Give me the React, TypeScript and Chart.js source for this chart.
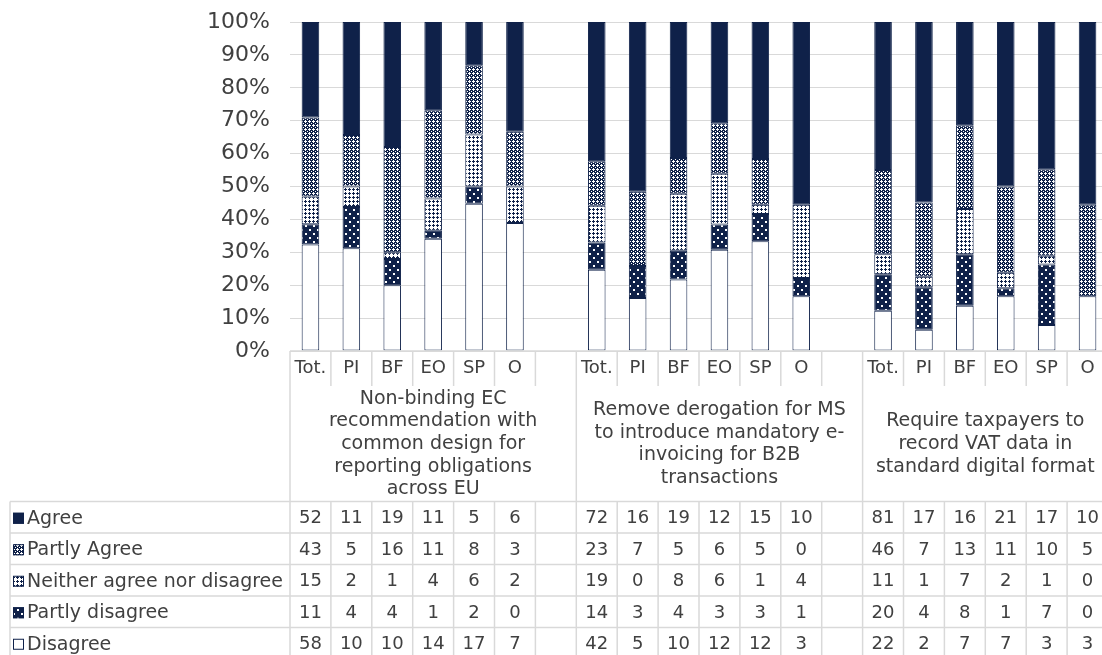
import { useEffect, useRef } from 'react';
import { Chart, registerables } from 'chart.js';

Chart.register(...registerables);

const categories = ['Tot.', 'PI', 'BF', 'EO', 'SP', 'O', '', 'Tot.', 'PI', 'BF', 'EO', 'SP', 'O', '', 'Tot.', 'PI', 'BF', 'EO', 'SP', 'O'];
const groupLabels = [
  ['Non-binding EC', 'recommendation with', 'common design for', 'reporting obligations', 'across EU'],
  ['Remove derogation for MS', 'to introduce mandatory e-', 'invoicing for B2B', 'transactions'],
  ['Require taxpayers to', 'record VAT data in', 'standard digital format'],
];
const groupStarts = [0, 7, 14];
const groupSpans = [7, 7, 6];

const agree = [52, 11, 19, 11, 5, 6, null, 72, 16, 19, 12, 15, 10, null, 81, 17, 16, 21, 17, 10];
const partlyAgree = [43, 5, 16, 11, 8, 3, null, 23, 7, 5, 6, 5, 0, null, 46, 7, 13, 11, 10, 5];
const neither = [15, 2, 1, 4, 6, 2, null, 19, 0, 8, 6, 1, 4, null, 11, 1, 7, 2, 1, 0];
const partlyDisagree = [11, 4, 4, 1, 2, 0, null, 14, 3, 4, 3, 3, 1, null, 20, 4, 8, 1, 7, 0];
const disagree = [58, 10, 10, 14, 17, 7, null, 42, 5, 10, 12, 12, 3, null, 22, 2, 7, 7, 3, 3];

const seriesNames = ['Agree', 'Partly Agree', 'Neither agree nor disagree', 'Partly disagree', 'Disagree'];

const NAVY = '#0f2149';
const GRID = '#d9d9d9';
const TEXT = '#404040';
const FONT = "'DejaVu Sans', Verdana, sans-serif";

function makePattern(size: number, bg: string, fg: string, px: number[][]) {
  const c = document.createElement('canvas');
  c.width = size;
  c.height = size;
  const g = c.getContext('2d')!;
  g.fillStyle = bg;
  g.fillRect(0, 0, size, size);
  g.fillStyle = fg;
  px.forEach(([x, y, w, h]) => g.fillRect(x, y, w, h));
  return g.createPattern(c, 'repeat')!;
}

export default function App() {
  const ref = useRef<HTMLCanvasElement>(null);

  useEffect(() => {
    const canvas = ref.current!;
    const plus = [[1, 0, 1, 1], [0, 1, 3, 1], [1, 2, 1, 1]];
    const fills: any[] = [
      NAVY,
      makePattern(4, NAVY, '#ffffff', [...plus, [3, 3, 1, 1]]),
      makePattern(4, '#ffffff', NAVY, plus),
      makePattern(8, NAVY, '#ffffff', [[1, 1, 2, 2], [5, 5, 2, 2]]),
      '#ffffff',
    ];
    const rows = [agree, partlyAgree, neither, partlyDisagree, disagree];
    const totals = categories.map((_, i) => rows.reduce((s, r) => s + (r[i] ?? 0), 0));
    const pct = (arr: (number | null)[]) => arr.map((v, i) => (v == null || totals[i] === 0 ? null : (v / totals[i]) * 100));

    // stacking order bottom -> top
    const order = [4, 3, 2, 1, 0];
    const datasets = order.map((k) => ({
      label: seriesNames[k],
      data: pct(rows[k]),
      backgroundColor: fills[k],
      borderColor: NAVY,
      borderWidth: 1,
      borderSkipped: false as any,
      barPercentage: 0.43,
      categoryPercentage: 1,
    }));

    const tablePlugin = {
      id: 'dataTable',
      afterDraw(chart: any) {
        const { ctx, chartArea } = chart;
        const left = chartArea.left;
        const right = chartArea.right;
        const colW = (right - left) / categories.length;
        const headTop = chartArea.bottom;
        const catBottom = 386;
        const dataTop = 501.5;
        const rowH = 31.5;
        const tableLeft = 10;
        ctx.save();
        ctx.strokeStyle = GRID;
        ctx.lineWidth = 1.5;
        const line = (x1: number, y1: number, x2: number, y2: number) => {
          ctx.beginPath();
          ctx.moveTo(x1, y1);
          ctx.lineTo(x2, y2);
          ctx.stroke();
        };
        line(left, headTop, right, headTop);
        for (let i = 0; i <= categories.length; i++) {
          const x = left + i * colW;
          const isGroup = groupStarts.includes(i);
          line(x, headTop, x, isGroup ? dataTop : catBottom);
          line(x, dataTop, x, dataTop + 5 * rowH);
        }
        line(tableLeft, dataTop, tableLeft, dataTop + 5 * rowH);
        for (let r = 0; r <= 5; r++) {
          line(tableLeft, dataTop + r * rowH, right, dataTop + r * rowH);
        }

        ctx.fillStyle = TEXT;
        ctx.font = `18px ${FONT}`;
        ctx.textAlign = 'center';
        ctx.textBaseline = 'middle';
        categories.forEach((c, i) => {
          if (c) ctx.fillText(c, left + (i + 0.5) * colW, 368);
        });
        ctx.font = `19px ${FONT}`;
        groupLabels.forEach((lines, g) => {
          const cx = left + (groupStarts[g] + groupSpans[g] / 2) * colW;
          const lh = 22.6;
          const y0 = 444 - ((lines.length - 1) * lh) / 2;
          lines.forEach((t, j) => ctx.fillText(t, cx, y0 + j * lh));
        });
        rows.forEach((row, r) => {
          const cy = dataTop + r * rowH + rowH / 2 + 1.5;
          ctx.font = `18px ${FONT}`;
          row.forEach((v, i) => {
            if (v != null) ctx.fillText(String(v), left + (i + 0.5) * colW, cy);
          });
          // legend key
          ctx.fillStyle = fills[r];
          ctx.fillRect(13, cy - 6, 11, 11);
          ctx.strokeStyle = NAVY;
          ctx.lineWidth = 1;
          ctx.strokeRect(13.5, cy - 5.5, 10, 10);
          ctx.fillStyle = TEXT;
          ctx.textAlign = 'left';
          ctx.font = `19px ${FONT}`;
          ctx.fillText(seriesNames[r], 27, cy);
          ctx.textAlign = 'center';
        });
        ctx.restore();
      },
    };

    const chart = new Chart(canvas, {
      type: 'bar',
      data: { labels: categories, datasets },
      options: {
        responsive: false,
        animation: false,
        devicePixelRatio: 1,
        layout: { padding: { top: 22, bottom: 655 - 351, left: 0, right: 0 } },
        plugins: { legend: { display: false }, tooltip: { enabled: false } },
        scales: {
          x: { stacked: true, display: false },
          y: {
            stacked: true,
            min: 0,
            max: 100,
            afterFit: (scale: any) => {
              scale.width = 290;
              scale.paddingTop = 0;
              scale.paddingBottom = 0;
            },
            border: { display: false },
            grid: { color: GRID, lineWidth: 1, drawTicks: false },
            ticks: {
              stepSize: 10,
              padding: 20,
              color: TEXT,
              font: { family: FONT, size: 22 },
              callback: (v: any) => `${v}%`,
            },
          },
        },
      },
      plugins: [tablePlugin],
    });
    return () => chart.destroy();
  }, []);

  return (
    <div style={{ position: 'fixed', left: 0, top: 0, width: 1102, height: 655, overflow: 'hidden', background: '#fff' }}>
      <canvas ref={ref} width={1108} height={655} style={{ display: 'block' }} />
    </div>
  );
}
